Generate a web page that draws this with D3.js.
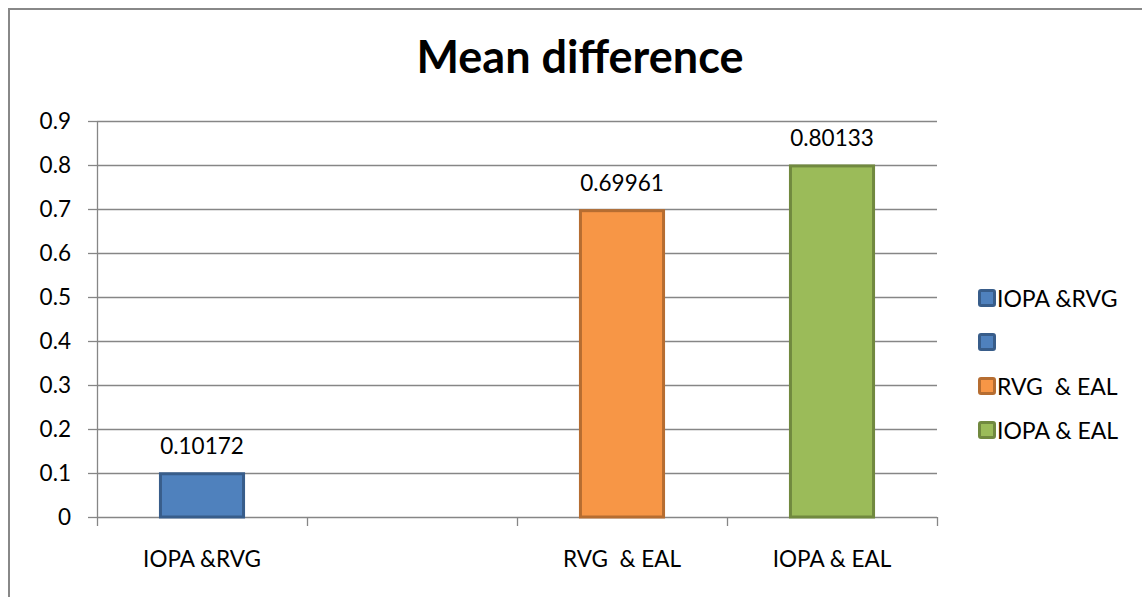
<!DOCTYPE html>
<meta charset="utf-8">
<script src="https://d3js.org/d3.v7.min.js"></script>
<style>
  html, body { margin: 0; background: #fff; overflow: hidden; }
  svg { display: block; }
  text { font-family: Lato, "Open Sans", sans-serif; fill: #000; white-space: pre; }
</style>
<div id="chart"></div>
<script>

// data
var categories = ["IOPA &RVG", "", "RVG  & EAL", "IOPA & EAL"];
var values = [0.10172, null, 0.69961, 0.80133];
var labels = ["0.10172", "", "0.69961", "0.80133"];
var yTicks = [0, 0.1, 0.2, 0.3, 0.4, 0.5, 0.6, 0.7, 0.8, 0.9];
var yTickLabels = ["0", "0.1", "0.2", "0.3", "0.4", "0.5", "0.6", "0.7", "0.8", "0.9"];
var legendNames = ["IOPA &RVG", "", "RVG  & EAL", "IOPA & EAL"];
var fills = ["#4F81BD", "#4F81BD", "#F79646", "#9BBB59"];
var strokes = ["#385D8A", "#385D8A", "#B66D31", "#71893F"];

var W = 1142, H = 597;
var margin = {top: 121, left: 97},
    width = 840,
    height = 396;

var svg = d3.select("#chart")
  .append("svg")
    .attr("width", W)
    .attr("height", H);

// outer chart frame: only the left and top edges are in the picture
svg.append("path")
    .attr("d", "M9," + H + "V9H" + W)
    .style("fill", "none")
    .style("stroke", "#888")
    .style("stroke-width", 2);

// title
svg.append("text")
    .attr("x", 580)
    .attr("y", 73)
    .attr("text-anchor", "middle")
    .style("font-size", "45px")
    .style("font-weight", "bold")
    .text("Mean difference");

var g = svg.append("g")
    .attr("transform", "translate(" + margin.left + "," + margin.top + ")");

var x = d3.scaleBand()
    .domain(d3.range(categories.length))
    .range([0, width])
    .paddingInner(0.59)
    .paddingOuter(0.295);

var y = d3.scaleLinear()
    .domain([0, 0.9])
    .range([height, 0]);

// gridlines
g.append("g")
  .selectAll("line")
  .data(yTicks.slice(1))
  .enter()
  .append("line")
    .attr("x1", 0)
    .attr("x2", width)
    .attr("y1", function(d) { return Math.round(y(d)) + 0.5; })
    .attr("y2", function(d) { return Math.round(y(d)) + 0.5; })
    .style("stroke", "#868686")
    .style("stroke-width", 1.3);

// Y axis
var yAxis = g.append("g")
    .call(d3.axisLeft(y)
      .tickValues(yTicks)
      .tickSize(9)
      .tickPadding(17)
      .tickFormat(function(d, i) { return yTickLabels[i]; }));
yAxis.select(".domain").style("stroke", "#868686").style("stroke-width", 1.3)
  .attr("d", "M0.5,0V" + height);
yAxis.selectAll(".tick line").style("stroke", "#868686").style("stroke-width", 1.3);
yAxis.selectAll("text").style("font-size", "22.5px").style("font-family", "Lato, sans-serif");

// X axis
var xAxis = g.append("g")
    .attr("transform", "translate(0," + height + ")")
    .call(d3.axisBottom(x)
      .tickSize(0)
      .tickPadding(34)
      .tickFormat(function(d) { return categories[d]; }));
xAxis.select(".domain").style("stroke", "#868686").style("stroke-width", 1.3)
  .attr("d", "M0," + 0.5 + "H" + width);
xAxis.selectAll("text").style("font-size", "22.5px").style("font-family", "Lato, sans-serif");

// category boundary ticks
var bounds = d3.range(categories.length + 1).map(function(i) { return i * x.step(); });
g.append("g")
  .selectAll("line")
  .data(bounds)
  .enter()
  .append("line")
    .attr("x1", function(d) { return Math.round(d) + 0.5; })
    .attr("x2", function(d) { return Math.round(d) + 0.5; })
    .attr("y1", height)
    .attr("y2", height + 9)
    .style("stroke", "#868686")
    .style("stroke-width", 1.3);

// bars
var idx = d3.range(categories.length).filter(function(i) { return values[i] != null; });
g.append("g")
  .selectAll("rect")
  .data(idx)
  .enter()
  .append("rect")
    .attr("x", function(i) { return x(i) + 1.5; })
    .attr("y", function(i) { return y(values[i]) + 1.5; })
    .attr("width", x.bandwidth() - 3)
    .attr("height", function(i) { return height - y(values[i]) - 1.5; })
    .style("fill", function(i) { return fills[i]; })
    .style("stroke", function(i) { return strokes[i]; })
    .style("stroke-width", 3);

// value labels
g.append("g")
  .selectAll("text")
  .data(idx)
  .enter()
  .append("text")
    .attr("x", function(i) { return x(i) + x.bandwidth() / 2; })
    .attr("y", function(i) { return y(values[i]) - 18; })
    .attr("text-anchor", "middle")
    .style("font-size", "22.5px")
    .text(function(i) { return labels[i]; });

// legend
var legend = svg.append("g")
    .attr("transform", "translate(978,299)");

var item = legend.selectAll("g")
  .data(legendNames)
  .enter()
  .append("g")
    .attr("transform", function(d, i) { return "translate(0," + (i * 44) + ")"; });

item.append("rect")
    .attr("x", 1.5)
    .attr("y", -8.5)
    .attr("width", 15)
    .attr("height", 15)
    .attr("rx", 1.5)
    .style("fill", function(d, i) { return fills[i]; })
    .style("stroke", function(d, i) { return strokes[i]; })
    .style("stroke-width", 3);

item.append("text")
    .attr("x", 19)
    .attr("y", 8)
    .style("font-size", "23px")
    .text(function(d) { return d; });

</script>
